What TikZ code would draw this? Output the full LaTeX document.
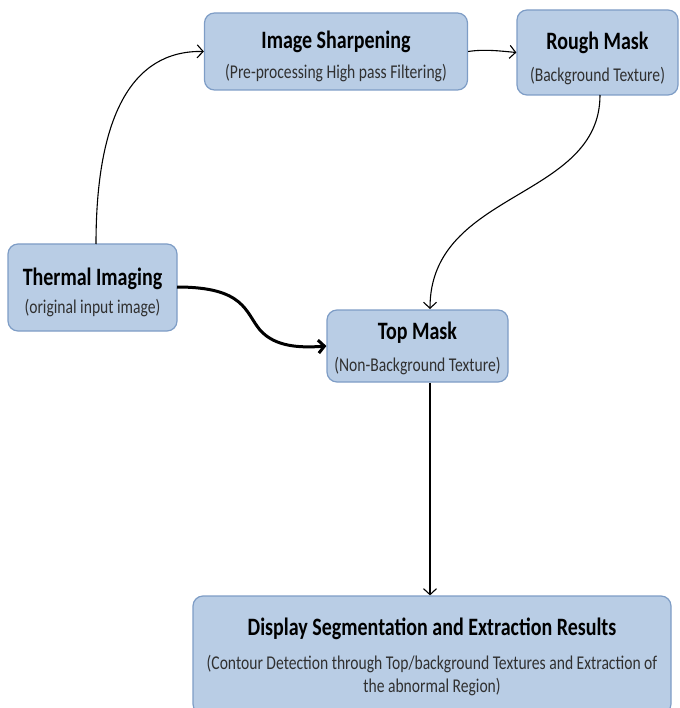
\documentclass[tikz,border=0pt]{standalone}
\usepackage{fontspec}
\setmainfont{Carlito}
\newfontfamily\narrowfont[FakeStretch=0.8]{Carlito}
\usetikzlibrary{arrows.meta}
\definecolor{boxfill}{HTML}{B9CDE5}
\definecolor{boxline}{HTML}{7E9DC6}
\definecolor{subtext}{HTML}{303030}
\tikzset{
  stagebox/.style={draw=boxline, line width=1.2pt, fill=boxfill, rounded corners=10pt,
    align=center, inner sep=0pt, font=\narrowfont\fontsize{19.5}{23}\selectfont},
  flow/.style={line width=1.1pt, -{Straight Barb[length=6pt,width=13pt]}},
  heavyflow/.style={line width=3pt, -{Straight Barb[length=6pt,width=13pt]}},
}
% heading line; the optional strut height pushes the text block down inside its box
\newcommand{\heading}[2][0]{{\fontsize{25}{23}\selectfont\bfseries\rule{0pt}{#1pt}#2}}
\newcommand{\subline}[1]{{\color{subtext}#1}}
\begin{document}
\begin{tikzpicture}[x=1pt,y=-1pt]
\useasboundingbox (0,0) rectangle (679,708);
% stages
\node[stagebox, minimum width=263pt, minimum height=77pt] (sharp) at (336,51.5)
  {\heading[27]{Image Sharpening}\\[7pt]\subline{(Pre-processing High pass Filtering)}};
\node[stagebox, minimum width=161pt, minimum height=85pt] (rough) at (597.5,52.5)
  {\heading[30]{Rough Mask}\\[9pt]\subline{(Background Texture)}};
\node[stagebox, minimum width=169pt, minimum height=87pt] (thermal) at (92.5,287.5)
  {\heading[27]{Thermal Imaging}\\[5pt]\subline{(original input image)}};
\node[stagebox, minimum width=181pt, minimum height=72pt] (top) at (417.5,346)
  {\heading[23]{Top Mask}\\[9pt]\subline{(Non-Background Texture)}};
\node[stagebox, minimum width=478pt, minimum height=118pt] (display) at (432,655)
  {\heading[21]{Display Segmentation and Extraction Results}\\[11pt]\subline{(Contour Detection through Top/background Textures and Extraction of}\\\subline{the abnormal Region)}};
% connectors
\coordinate (a1) at (96,244);
\draw[flow] (a1) .. controls (96,120) and (130,50) .. (sharp.west);
\draw[flow] (sharp.east) .. controls (485,49) and (500,51) .. (rough.west);
\coordinate (b1) at (600,95);
\draw[flow] (b1) .. controls (600,200) and (430,190) .. (430,309);
\coordinate (c1) at (177,287);
\draw[heavyflow] (c1) .. controls (245,287) and (245,312) .. (260,330) .. controls (275,347) and (300,348) .. (top.west);
\draw[flow] (top.south -| 430,0) -- (display.north -| 430,0);
\end{tikzpicture}
\end{document}
